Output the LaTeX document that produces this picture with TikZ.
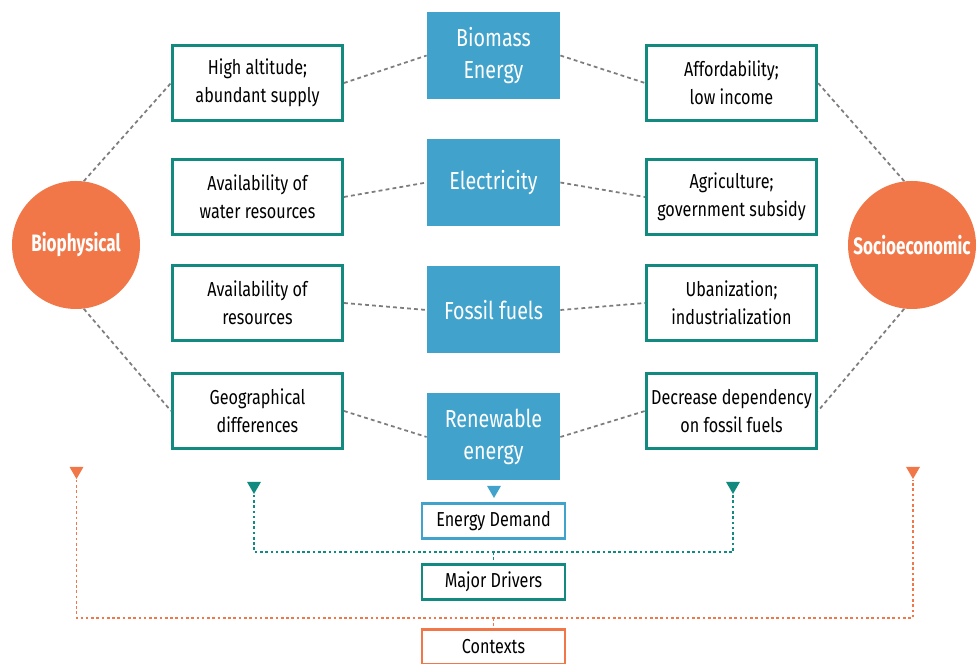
\documentclass[tikz,border=0pt]{standalone}
\usepackage{fontspec}
\setmainfont{Fira Sans}[FakeStretch=0.8, BoldFeatures={FakeStretch=0.72}]
\usetikzlibrary{positioning, shapes.geometric}
\definecolor{cT}{RGB}{18,138,128}
\definecolor{cB}{RGB}{65,163,204}
\definecolor{cO}{RGB}{241,119,73}
\definecolor{cG}{RGB}{125,125,125}

\begin{document}
\begin{tikzpicture}[x=0.2mm, y=-0.2mm,
    factor/.style={draw=cT, line width=1.7pt, fill=white, minimum width=3.4cm, minimum height=1.5cm,
                   align=center, inner sep=2pt, font=\fontsize{11.5}{15.9}\selectfont},
    source/.style={fill=cB, text=white, minimum width=2.66cm, minimum height=1.74cm,
                   align=center, inner sep=2pt, font=\fontsize{14}{18.5}\selectfont},
    context/.style={circle, fill=cO, text=white, minimum size=2.56cm, inner sep=0pt,
                    font=\bfseries\fontsize{13.5}{16}\selectfont},
    keybox/.style={line width=1.5pt, fill=white, minimum width=2.86cm, minimum height=0.7cm,
                   inner sep=2pt, font=\fontsize{11.5}{14}\selectfont},
    tip/.style={regular polygon, regular polygon sides=3, shape border rotate=180,
                fill, inner sep=0pt, minimum size=0.32cm},
    dots/.style={draw=cG, line width=1pt, dash pattern=on 2.2pt off 1.8pt},
    cdots/.style={line width=1pt, dash pattern=on 1.5pt off 1.5pt}]
    \useasboundingbox (0,0) rectangle (978,664);

    % Contexts
    \node[context] (bio) at (76,245) {Biophysical};
    \node[context] (soc) at (912,245) {Socioeconomic};

    % Energy sources
    \node[source] (bm) at (493.5,55.5) {Biomass\\Energy};
    \node[source] (el) at (493.5,182.5) {Electricity};
    \node[source] (ff) at (493.5,310) {Fossil fuels};
    \node[source] (re) at (493.5,437) {Renewable\\energy};

    % Biophysical drivers
    \node[factor] (alt) at (257.5,83) {High altitude;\\abundant supply};
    \node[factor] (wat) at (257.5,197) {Availability of\\water resources};
    \node[factor] (res) at (257.5,303) {Availability of\\resources};
    \node[factor] (geo) at (257.5,411) {Geographical\\differences};

    % Socioeconomic drivers
    \node[factor] (aff) at (731.5,83) {Affordability;\\low income};
    \node[factor] (agr) at (731.5,197) {Agriculture;\\government subsidy};
    \node[factor] (urb) at (731.5,303) {Ubanization;\\industrialization};
    \node[factor] (dep) at (731.5,411) {Decrease dependency\\on fossil fuels};

    % Links
    \path[dots]
    (bio.83) edge (alt.west)
    (bio.-83) edge (geo.west)
    (soc.97) edge (aff.east)
    (soc.-97) edge (dep.east)
    (alt.east) edge (bm.west)
    (wat.east) edge (el.west)
    (res.east) edge (ff.west)
    (geo.east) edge (re.west)
    (bm.east) edge (aff.west)
    (el.east) edge (agr.west)
    (ff.east) edge (urb.west)
    (re.east) edge (dep.west);

    % Key
    \node[keybox, draw=cB] (ed) at (493.5,521) {Energy Demand};
    \node[keybox, draw=cT] (md) at (493.5,582) {Major Drivers};
    \node[keybox, draw=cO] (cx) at (493.5,647) {Contexts};

    \node[tip, cB] (tD) at (494,490) {};
    \node[tip, cT] (tL) at (254,486) {};
    \node[tip, cT] (tR) at (733,486) {};
    \node[tip, cO] (oL) at (76.5,471) {};
    \node[tip, cO] (oR) at (913,471) {};

    \coordinate (jT) at (493.5,552);
    \coordinate (jO) at (493.5,618);
    \draw[cdots, cT] (tL.south) |- (jT) -| (tR.south);
    \draw[cdots, cT] (jT) -- (md.north);
    \draw[cdots, cO] (oL.south) |- (jO) -| (oR.south);
    \draw[cdots, cO] (jO) -- (cx.north);

\end{tikzpicture}
\end{document}
